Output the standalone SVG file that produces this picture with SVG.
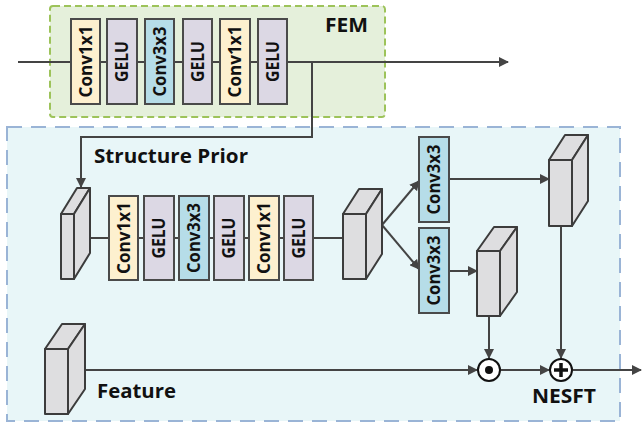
<svg xmlns="http://www.w3.org/2000/svg" width="642" height="425" viewBox="0 0 642 425">
  <style>
    .blk { stroke: #4a4a4a; stroke-width: 2; }
    .c1 { fill: #fdf0cf; }
    .c3 { fill: #b6dde8; }
    .ge { fill: #dcd8e4; }
    .bt { font-family: "Open Sans", "Liberation Sans", sans-serif; font-weight: bold; font-size: 17px; fill: #111; text-anchor: middle; }
    .lbl { font-family: "Open Sans", "Liberation Sans", sans-serif; font-weight: bold; font-size: 20px; fill: #111; }
    .ln { fill: none; stroke: #444; stroke-width: 2; }
    .cube { fill: #dedee0; stroke: #3c3c3c; stroke-width: 2; stroke-linejoin: round; }
  </style>
  <defs>
    <marker id="arr" viewBox="0 0 10 10" refX="9" refY="5" markerWidth="5" markerHeight="5" orient="auto" markerUnits="strokeWidth">
      <path d="M0,0 L10,5 L0,10 z" fill="#444"/>
    </marker>
  </defs>

  <!-- module backgrounds -->
  <g id="fem-module">
    <rect x="50" y="6" width="335" height="111" rx="3" fill="#e5f0db" stroke="#9dc35a" stroke-width="2" stroke-dasharray="7 4"/>
    <text class="lbl" x="325" y="32" textLength="43" lengthAdjust="spacingAndGlyphs">FEM</text>
  </g>
  <g id="nesft-module">
    <rect x="7" y="127" width="613" height="294" fill="#e8f6f8" stroke="#9ab4d6" stroke-width="2" stroke-dasharray="15 9"/>
    <text class="lbl" x="94" y="163" textLength="154" lengthAdjust="spacingAndGlyphs">Structure Prior</text>
    <text class="lbl" x="97" y="398" textLength="79" lengthAdjust="spacingAndGlyphs">Feature</text>
    <text class="lbl" x="532" y="403" textLength="64" lengthAdjust="spacingAndGlyphs">NESFT</text>
  </g>

  <!-- connectors -->
  <g id="connectors">
    <line class="ln" x1="18" y1="62" x2="508" y2="62" marker-end="url(#arr)"/>
    <path class="ln" d="M312,62 V137 H81 V187" marker-end="url(#arr)"/>
    <line class="ln" x1="90" y1="238" x2="343" y2="238"/>
    <line class="ln" x1="382" y1="225" x2="419" y2="181" marker-end="url(#arr)"/>
    <line class="ln" x1="382" y1="225" x2="419" y2="269" marker-end="url(#arr)"/>
    <line class="ln" x1="449" y1="179" x2="549" y2="179" marker-end="url(#arr)"/>
    <line class="ln" x1="449" y1="271" x2="477" y2="271" marker-end="url(#arr)"/>
    <line class="ln" x1="489" y1="316" x2="489" y2="358" marker-end="url(#arr)"/>
    <line class="ln" x1="561" y1="226" x2="561" y2="358" marker-end="url(#arr)"/>
    <line class="ln" x1="85" y1="370" x2="477" y2="370" marker-end="url(#arr)"/>
    <line class="ln" x1="501" y1="370" x2="549" y2="370" marker-end="url(#arr)"/>
    <line class="ln" x1="573" y1="370" x2="641" y2="370" marker-end="url(#arr)"/>
  </g>

  <!-- FEM layers -->
  <g id="fem-conv1x1-a"><rect class="blk c1" x="71" y="19" width="29" height="85"/><text class="bt" transform="translate(85.5,61.5) rotate(-90)" dy="0.36em" textLength="72" lengthAdjust="spacingAndGlyphs">Conv1x1</text></g>
  <g id="fem-gelu-a"><rect class="blk ge" x="107" y="19" width="30" height="85"/><text class="bt" transform="translate(122,61.5) rotate(-90)" dy="0.36em" textLength="41" lengthAdjust="spacingAndGlyphs">GELU</text></g>
  <g id="fem-conv3x3"><rect class="blk c3" x="145" y="19" width="29" height="85"/><text class="bt" transform="translate(159.5,61.5) rotate(-90)" dy="0.36em" textLength="70" lengthAdjust="spacingAndGlyphs">Conv3x3</text></g>
  <g id="fem-gelu-b"><rect class="blk ge" x="183" y="19" width="29" height="85"/><text class="bt" transform="translate(197.5,61.5) rotate(-90)" dy="0.36em" textLength="41" lengthAdjust="spacingAndGlyphs">GELU</text></g>
  <g id="fem-conv1x1-b"><rect class="blk c1" x="220" y="19" width="30" height="85"/><text class="bt" transform="translate(235,61.5) rotate(-90)" dy="0.36em" textLength="72" lengthAdjust="spacingAndGlyphs">Conv1x1</text></g>
  <g id="fem-gelu-c"><rect class="blk ge" x="258" y="19" width="29" height="85"/><text class="bt" transform="translate(272.5,61.5) rotate(-90)" dy="0.36em" textLength="41" lengthAdjust="spacingAndGlyphs">GELU</text></g>

  <!-- structure prior layers -->
  <g id="sp-conv1x1-a"><rect class="blk c1" x="109" y="196" width="29" height="84"/><text class="bt" transform="translate(123.5,238) rotate(-90)" dy="0.36em" textLength="72" lengthAdjust="spacingAndGlyphs">Conv1x1</text></g>
  <g id="sp-gelu-a"><rect class="blk ge" x="144" y="196" width="30" height="84"/><text class="bt" transform="translate(159,238) rotate(-90)" dy="0.36em" textLength="41" lengthAdjust="spacingAndGlyphs">GELU</text></g>
  <g id="sp-conv3x3"><rect class="blk c3" x="179" y="196" width="30" height="84"/><text class="bt" transform="translate(194,238) rotate(-90)" dy="0.36em" textLength="70" lengthAdjust="spacingAndGlyphs">Conv3x3</text></g>
  <g id="sp-gelu-b"><rect class="blk ge" x="214" y="196" width="30" height="84"/><text class="bt" transform="translate(229,238) rotate(-90)" dy="0.36em" textLength="41" lengthAdjust="spacingAndGlyphs">GELU</text></g>
  <g id="sp-conv1x1-b"><rect class="blk c1" x="249" y="196" width="30" height="84"/><text class="bt" transform="translate(264,238) rotate(-90)" dy="0.36em" textLength="72" lengthAdjust="spacingAndGlyphs">Conv1x1</text></g>
  <g id="sp-gelu-c"><rect class="blk ge" x="284" y="196" width="29" height="84"/><text class="bt" transform="translate(298.5,238) rotate(-90)" dy="0.36em" textLength="41" lengthAdjust="spacingAndGlyphs">GELU</text></g>

  <g id="conv3x3-scale"><rect class="blk c3" x="419" y="137" width="30" height="85"/><text class="bt" transform="translate(434,179.5) rotate(-90)" dy="0.36em" textLength="70" lengthAdjust="spacingAndGlyphs">Conv3x3</text></g>
  <g id="conv3x3-shift"><rect class="blk c3" x="419" y="228" width="30" height="85"/><text class="bt" transform="translate(434,270.5) rotate(-90)" dy="0.36em" textLength="70" lengthAdjust="spacingAndGlyphs">Conv3x3</text></g>

  <!-- feature maps (cuboids) -->
  <g id="map-input">
    <path class="cube" d="M61,214 L77,188 L90,188 L74,214 Z"/>
    <path class="cube" d="M74,214 L90,188 L90,253 L74,279 Z"/>
    <rect class="cube" x="61" y="214" width="13" height="65"/>
  </g>
  <g id="map-prior">
    <path class="cube" d="M343,214 L359,189 L382,189 L366,214 Z"/>
    <path class="cube" d="M366,214 L382,189 L382,254 L366,279 Z"/>
    <rect class="cube" x="343" y="214" width="23" height="65"/>
  </g>
  <g id="map-gamma">
    <path class="cube" d="M549,160 L565,135 L588,135 L572,160 Z"/>
    <path class="cube" d="M572,160 L588,135 L588,201 L572,226 Z"/>
    <rect class="cube" x="549" y="160" width="23" height="66"/>
  </g>
  <g id="map-beta">
    <path class="cube" d="M477,251 L494,227 L517,227 L500,251 Z"/>
    <path class="cube" d="M500,251 L517,227 L517,292 L500,316 Z"/>
    <rect class="cube" x="477" y="251" width="23" height="65"/>
  </g>
  <g id="map-feature">
    <path class="cube" d="M45,349 L62,324 L85,324 L68,349 Z"/>
    <path class="cube" d="M68,349 L85,324 L85,389 L68,414 Z"/>
    <rect class="cube" x="45" y="349" width="23" height="65"/>
  </g>

  <!-- operators -->
  <g id="op-multiply">
    <circle cx="489" cy="370" r="11" fill="#fff" stroke="#111" stroke-width="2"/>
    <circle cx="489" cy="370" r="4" fill="#111"/>
  </g>
  <g id="op-add">
    <circle cx="561" cy="370" r="11" fill="#fff" stroke="#111" stroke-width="2"/>
    <path d="M554,370 H568 M561,363 V377" stroke="#111" stroke-width="3.5"/>
  </g>
</svg>
